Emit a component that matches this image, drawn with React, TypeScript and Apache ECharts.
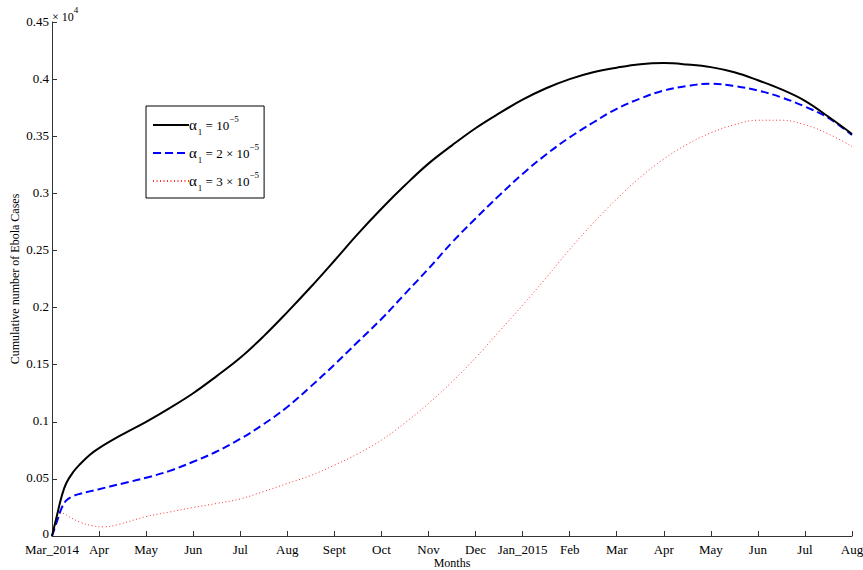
import React, { useEffect, useRef } from "react";
import * as echarts from "echarts";

const monthLabels = ["Mar_2014", "Apr", "May", "Jun", "Jul", "Aug", "Sept", "Oct", "Nov", "Dec", "Jan_2015", "Feb", "Mar", "Apr", "May", "Jun", "Jul", "Aug"];
const yTicks = [0, 0.05, 0.1, 0.15, 0.2, 0.25, 0.3, 0.35, 0.4, 0.45];

// month position (0 = Mar_2014), value (×10^4)
const alpha1: [number, number][] = [
  [0, 0], [0.1, 0.017], [0.2, 0.034], [0.3, 0.046], [0.45, 0.056], [0.6, 0.063], [0.8, 0.071], [1, 0.077],
  [1.5, 0.089], [2, 0.100], [2.5, 0.112], [3, 0.125], [3.5, 0.14], [4, 0.156], [4.5, 0.175], [5, 0.196],
  [5.5, 0.218], [6, 0.241], [6.5, 0.2645], [7, 0.2865], [7.5, 0.307], [8, 0.326], [8.5, 0.342], [9, 0.357],
  [9.5, 0.370], [10, 0.382], [10.5, 0.392], [11, 0.400], [11.5, 0.406], [12, 0.410], [12.5, 0.413],
  [13, 0.414], [13.5, 0.4128], [14, 0.4105], [14.5, 0.406], [15, 0.399], [15.5, 0.391], [16, 0.381],
  [16.5, 0.367], [17, 0.352],
];
const alpha2: [number, number][] = [
  [0, 0], [0.1, 0.012], [0.2, 0.024], [0.3, 0.031], [0.45, 0.035], [0.6, 0.037], [1, 0.041], [1.5, 0.046],
  [2, 0.051], [2.5, 0.057], [3, 0.065], [3.5, 0.074], [4, 0.085], [4.5, 0.098], [5, 0.113], [5.5, 0.131],
  [6, 0.150], [6.5, 0.170], [7, 0.190], [7.5, 0.212], [8, 0.234], [8.5, 0.257], [9, 0.278], [9.5, 0.298],
  [10, 0.317], [10.5, 0.334], [11, 0.349], [11.5, 0.362], [12, 0.374], [12.5, 0.383], [13, 0.390],
  [13.5, 0.394], [14, 0.396], [14.5, 0.394], [15, 0.390], [15.5, 0.384], [16, 0.376], [16.5, 0.366],
  [17, 0.351],
];
const alpha3: [number, number][] = [
  [0, 0], [0.05, 0.01], [0.12, 0.019], [0.2, 0.02], [0.4, 0.016], [0.6, 0.012], [0.85, 0.009], [1.1, 0.008],
  [1.4, 0.010], [2, 0.017], [2.5, 0.021], [3, 0.025], [3.5, 0.0285], [4, 0.0325], [4.5, 0.039], [5, 0.046],
  [5.5, 0.053], [6, 0.062], [6.5, 0.072], [7, 0.084], [7.5, 0.099], [8, 0.116], [8.5, 0.135], [9, 0.156],
  [9.5, 0.179], [10, 0.202], [10.5, 0.226], [11, 0.251], [11.5, 0.274], [12, 0.295], [12.5, 0.314],
  [13, 0.330], [13.5, 0.343], [14, 0.353], [14.5, 0.360], [15, 0.364], [15.5, 0.364], [16, 0.360],
  [16.5, 0.352], [17, 0.341],
];

const seriesNames = ["α1 = 10^-5", "α1 = 2 × 10^-5", "α1 = 3 × 10^-5"];
const legendRich = [
  "{g|α}{sub|1}{t| = 10}{sup|−5}",
  "{g|α}{sub|1}{t| = 2 × 10}{sup|−5}",
  "{g|α}{sub|1}{t| = 3 × 10}{sup|−5}",
];

const FONT = "'Liberation Serif', 'Times New Roman', serif";

export default function App() {
  const ref = useRef<HTMLDivElement>(null);
  useEffect(() => {
    if (!ref.current) return;
    const chart = echarts.init(ref.current, undefined, { renderer: "svg" });
    chart.setOption({
      animation: false,
      backgroundColor: "#fff",
      textStyle: { fontFamily: FONT },
      grid: { left: 52, right: 11, top: 22, bottom: 34, containLabel: false, outerBoundsMode: "none" },
      xAxis: {
        type: "value",
        min: 0,
        max: monthLabels.length - 1,
        interval: 1,
        name: "Months",
        nameLocation: "middle",
        nameGap: 21,
        nameMoveOverlap: false,
        nameTextStyle: { color: "#000", fontSize: 12, fontFamily: FONT, lineHeight: 12 },
        axisLine: { show: true, lineStyle: { color: "#333", width: 1 } },
        axisTick: { show: true, inside: true, length: 5, lineStyle: { color: "#333" } },
        axisLabel: {
          color: "#000",
          fontSize: 13,
          fontFamily: FONT,
          margin: 7,
          lineHeight: 12,
          formatter: (v: number) => monthLabels[Math.round(v)] ?? "",
        },
        splitLine: { show: false },
      },
      yAxis: {
        type: "value",
        min: yTicks[0],
        max: yTicks[yTicks.length - 1],
        interval: 0.05,
        name: "Cumulative number of Ebola Cases",
        nameLocation: "middle",
        nameGap: 31,
        nameMoveOverlap: false,
        nameTextStyle: { color: "#000", fontSize: 12, fontFamily: FONT },
        axisLine: { show: true, lineStyle: { color: "#333", width: 1 } },
        axisTick: { show: true, inside: true, length: 5, lineStyle: { color: "#333" } },
        axisLabel: {
          color: "#000",
          fontSize: 13,
          fontFamily: FONT,
          margin: 3,
          lineHeight: 10,
          padding: [0, 0, 2, 0],
          formatter: (v: number) => {
            const t = yTicks.find((y) => Math.abs(y - v) < 1e-9);
            if (t === undefined) return "";
            return t === 0 ? "{z|0}" : String(t);
          },
          rich: {
            z: { fontSize: 13, fontFamily: FONT, color: "#000", lineHeight: 10, padding: [0, 0, 4, 0] },
          },
        },
        splitLine: { show: false },
      },
      legend: {
        orient: "vertical",
        left: 146,
        top: 106,
        backgroundColor: "#fff",
        borderColor: "#000",
        borderWidth: 1,
        borderRadius: 0,
        padding: [8, 5, 6, 6],
        itemGap: 6,
        itemWidth: 36,
        itemHeight: 14,
        itemStyle: { opacity: 0 },
        data: seriesNames,
        formatter: (name: string) => legendRich[seriesNames.indexOf(name)],
        textStyle: {
          color: "#000",
          fontFamily: FONT,
          fontSize: 13,
          padding: [0, 0, 0, -5],
          rich: {
            g: { fontSize: 15, fontFamily: FONT, color: "#000", lineHeight: 22, verticalAlign: "middle" },
            sub: { fontSize: 9, fontFamily: FONT, color: "#000", verticalAlign: "bottom", lineHeight: 10, padding: [0, 0, 0, 1] },
            t: { fontSize: 13, fontFamily: FONT, color: "#000", lineHeight: 22, verticalAlign: "middle" },
            sup: { fontSize: 9, fontFamily: FONT, color: "#000", verticalAlign: "top", lineHeight: 10 },
          },
        },
      },
      graphic: [
        {
          type: "text",
          left: 52,
          top: 5,
          style: {
            text: "{m|× 10}{p|4}",
            fill: "#000",
            rich: {
              m: { fontSize: 12, fontFamily: FONT, fill: "#000", lineHeight: 18, verticalAlign: "bottom" },
              p: { fontSize: 9, fontFamily: FONT, fill: "#000", lineHeight: 10, verticalAlign: "top" },
            },
          },
        },
      ],
      series: [
        {
          name: seriesNames[0],
          type: "line",
          data: alpha1,
          showSymbol: false,
          symbol: "none",
          smooth: 0.4,
          lineStyle: { color: "#000", width: 2, type: "solid" },
          itemStyle: { color: "#000" },
          z: 3,
        },
        {
          name: seriesNames[1],
          type: "line",
          data: alpha2,
          showSymbol: false,
          symbol: "none",
          smooth: 0.4,
          lineStyle: { color: "#0000ff", width: 2, type: [8, 4] },
          itemStyle: { color: "#0000ff" },
          z: 2,
        },
        {
          name: seriesNames[2],
          type: "line",
          data: alpha3,
          showSymbol: false,
          symbol: "none",
          smooth: 0.4,
          lineStyle: { color: "#ff3030", width: 1, type: [1, 2.5] },
          itemStyle: { color: "#ff3030" },
          z: 1,
        },
      ],
    });
    return () => chart.dispose();
  }, []);
  return (
    <div
      ref={ref}
      style={{ position: "fixed", left: 0, top: 0, width: 863, height: 570, background: "#fff" }}
    />
  );
}
